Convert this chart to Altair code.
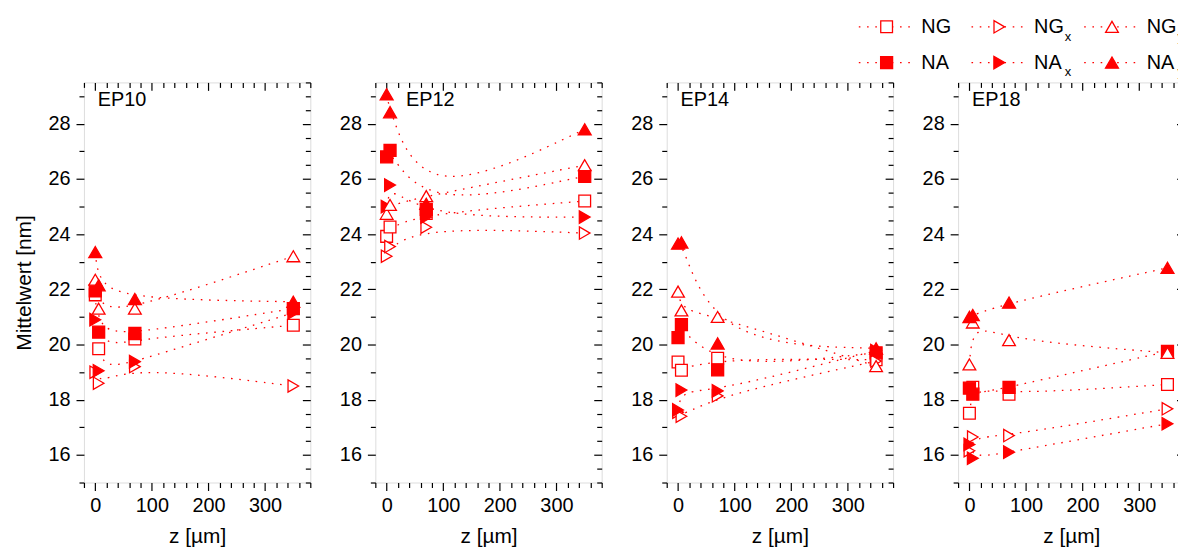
import altair as alt
import pandas as pd

FONT = "Liberation Sans"
RED = "#ff0000"

# ---- data -------------------------------------------------------------
Z = [0, 6, 70, 350]
SERIES = ["NG", "NA", "NGx", "NAx", "NGy", "NAy"]
SHAPES = ["square", "square", "triangle-right", "triangle-right", "triangle-up", "triangle-up"]
FILLS = ["white", RED, "white", RED, "white", RED]
SIZES = [140, 170, 230, 260, 230, 260]

PANELS = ["EP10", "EP12", "EP14", "EP18"]

EP10_NG = [21.8, 19.85, 20.2, 20.7]
EP10_NA = [21.95, 20.45, 20.4, 21.3]
EP10_NGx = [19.0, 18.6, 19.2, 18.5]
EP10_NAx = [20.9, 19.05, 19.38, 21.15]
EP10_NGy = [22.35, 21.3, 21.3, 23.2]
EP10_NAy = [23.35, 22.15, 21.65, 21.55]

EP12_NG = [23.92, 24.26, 24.75, 25.2]
EP12_NA = [26.8, 27.04, 24.9, 26.1]
EP12_NGx = [23.2, 23.55, 24.25, 24.04]
EP12_NAx = [25.0, 25.78, 24.62, 24.62]
EP12_NGy = [24.74, 25.06, 25.38, 26.5]
EP12_NAy = [29.07, 28.42, 25.1, 27.8]

EP14_NG = [19.37, 19.07, 19.5, 19.45]
EP14_NA = [20.25, 20.72, 19.08, 19.7]
EP14_NGx = [17.55, 17.4, 18.14, 19.4]
EP14_NAx = [17.63, 18.35, 18.32, 19.78]
EP14_NGy = [21.92, 21.24, 21.0, 19.22]
EP14_NAy = [23.66, 23.7, 20.04, 19.86]

EP18_NG = [17.51, 18.45, 18.2, 18.55]
EP18_NA = [18.42, 18.2, 18.45, 19.75]
EP18_NGx = [16.15, 16.65, 16.7, 17.67]
EP18_NAx = [16.38, 15.88, 16.1, 17.13]
EP18_NGy = [19.28, 20.8, 20.16, 19.7]
EP18_NAy = [21.0, 21.07, 21.52, 22.78]

PANEL_DATA = {
    "EP10": [EP10_NG, EP10_NA, EP10_NGx, EP10_NAx, EP10_NGy, EP10_NAy],
    "EP12": [EP12_NG, EP12_NA, EP12_NGx, EP12_NAx, EP12_NGy, EP12_NAy],
    "EP14": [EP14_NG, EP14_NA, EP14_NGx, EP14_NAx, EP14_NGy, EP14_NAy],
    "EP18": [EP18_NG, EP18_NA, EP18_NGx, EP18_NAx, EP18_NGy, EP18_NAy],
}

X_TICKS = list(range(-20, 381, 20))
Y_TICKS = [15 + 0.5 * i for i in range(30)]

# legend
LEG_SERIES = ["NG", "NGx", "NGy", "NA", "NAx", "NAy"]
LEG_COL = [0, 1, 2, 0, 1, 2]
LEG_ROW = [0, 0, 0, 1, 1, 1]
LEG_BASE = ["NG", "NG", "NG", "NA", "NA", "NA"]
LEG_SUB = ["", "x", "y", "", "x", "y"]

# ---- styling ----------------------------------------------------------
W, H = 228, 403
LABEL_POS = {"EP10": (14, 24), "EP12": (31, 24), "EP14": (14, 24), "EP18": (14, 24)}
xs = alt.Scale(domain=[-20, 380], nice=False, zero=False)
ys = alt.Scale(domain=[15, 29.5], nice=False, zero=False)
shape_s = alt.Scale(domain=SERIES, range=SHAPES)
fill_s = alt.Scale(domain=SERIES, range=FILLS)
size_s = alt.Scale(domain=SERIES, range=SIZES)
DASH = [1.6, 6.7]


def bottom_axis():
    return alt.Axis(
        orient="bottom", values=X_TICKS, format="d",
        labelExpr="datum.value % 100 === 0 ? datum.label : ''",
        tickSize={"condition": {"test": "datum.value % 100 === 0", "value": 8}, "value": 5},
        labelOverlap=False, labelFlush=False, domain=False, grid=False,
        tickColor="black", tickWidth=1.2, labelFont=FONT, labelFontSize=20,
        labelColor="black", labelPadding=5, title="z [µm]", titleFont=FONT,
        titleFontSize=21, titleFontWeight="normal", titleColor="black", titlePadding=10,
    )


def left_axis(with_title):
    kw = dict(
        orient="left", values=Y_TICKS, format="d",
        labelExpr="datum.value % 2 === 0 ? datum.label : ''",
        tickSize={"condition": {"test": "datum.value % 2 === 0", "value": 8}, "value": 5},
        labelOverlap=False, labelFlush=False, domain=False, grid=False,
        tickColor="black", tickWidth=1.2, labelFont=FONT, labelFontSize=20,
        labelColor="black", labelPadding=6,
    )
    if with_title:
        kw.update(title="Mittelwert [nm]", titleFont=FONT, titleFontSize=21,
                  titleFontWeight="normal", titleColor="black", titlePadding=14)
    else:
        kw.update(title=None)
    return alt.Axis(**kw)


def top_axis():
    return alt.Axis(orient="top", values=X_TICKS, labels=False, domain=False, grid=False,
                    tickSize={"expr": "datum.value % 100 === 0 ? -8 : -5"},
                    tickColor="black", tickWidth=1.2, title=None)


def right_axis():
    return alt.Axis(orient="right", values=Y_TICKS, labels=False, domain=False, grid=False,
                    tickSize={"expr": "datum.value % 2 === 0 ? -8 : -5"},
                    tickColor="black", tickWidth=1.2, title=None)


def panel(name, first):
    vals = PANEL_DATA[name]
    rows = []
    for s, series_vals in zip(SERIES, vals):
        for z, v in zip(Z, series_vals):
            rows.append({"z": z, "v": v, "s": s})
    df = pd.DataFrame(rows)
    base = alt.Chart(df)

    lines = base.mark_line(interpolate="basis", strokeDash=DASH, strokeWidth=1.3,
                           color=RED).encode(
        x=alt.X("z:Q", scale=xs, axis=bottom_axis()),
        y=alt.Y("v:Q", scale=ys, axis=left_axis(first)),
        detail="s:N",
    )
    frame = base.mark_point(opacity=0).encode(
        x=alt.X("z:Q", scale=xs, axis=top_axis()),
        y=alt.Y("v:Q", scale=ys, axis=right_axis()),
    )
    pts = base.mark_point(filled=False, stroke=RED, strokeWidth=1.3, opacity=1).encode(
        x=alt.X("z:Q", scale=xs, axis=None),
        y=alt.Y("v:Q", scale=ys, axis=None),
        shape=alt.Shape("s:N", scale=shape_s, legend=None),
        fill=alt.Fill("s:N", scale=fill_s, legend=None),
        size=alt.Size("s:N", scale=size_s, legend=None),
    )
    lx, ly = LABEL_POS[name]
    label = alt.Chart(pd.DataFrame({"name": [name]})).mark_text(
        align="left", baseline="alphabetic", font=FONT, fontSize=20, color="black"
    ).encode(x=alt.value(lx), y=alt.value(ly), text="name:N")

    return alt.layer(lines, frame, pts, label).resolve_axis(x="independent", y="independent")


def legend_layer():
    ldf = pd.DataFrame({"s": LEG_SERIES, "col": LEG_COL, "row": LEG_ROW,
                        "base": LEG_BASE, "sub": LEG_SUB})
    lx = alt.Scale(domain=[0, 2], range=[-72, 155])
    ly = alt.Scale(domain=[0, 1], range=[-56, -20])
    b = alt.Chart(ldf)
    X = alt.X("col:Q", scale=lx, axis=None)
    Y = alt.Y("row:Q", scale=ly, axis=None)
    rule = b.mark_rule(color=RED, strokeDash=DASH, strokeWidth=1.3, xOffset=-28, x2Offset=28).encode(
        x=X, x2="col:Q", y=Y)
    sym = b.mark_point(filled=False, stroke=RED, strokeWidth=1.3, opacity=1).encode(
        x=X, y=Y,
        shape=alt.Shape("s:N", scale=shape_s, legend=None),
        fill=alt.Fill("s:N", scale=fill_s, legend=None),
        size=alt.Size("s:N", scale=size_s, legend=None),
    )
    txt = b.mark_text(align="left", baseline="middle", dx=35, font=FONT, fontSize=20,
                      color="black").encode(x=X, y=Y, text="base:N")
    sub = b.mark_text(align="left", baseline="middle", dx=66, dy=10, font=FONT, fontSize=13,
                      color="black").encode(x=X, y=Y, text="sub:N")
    return alt.layer(rule, sym, txt, sub)


charts = []
for i, name in enumerate(PANELS):
    p = panel(name, i == 0).properties(width=W, height=H)
    if name == "EP18":
        p = alt.layer(p, legend_layer()).resolve_scale(
            x="independent", y="independent", shape="independent", fill="independent", size="independent"
        ).properties(width=W, height=H)
    charts.append(p)

chart = alt.hconcat(*charts, spacing=65.5, bounds="flush").properties(
    padding={"left": 4.5, "top": 6, "right": -8, "bottom": 0}
).configure_view(stroke="black", strokeWidth=1.5).configure(background="white")

chart.save("out.html", embed_options={"renderer": "svg", "actions": False})
